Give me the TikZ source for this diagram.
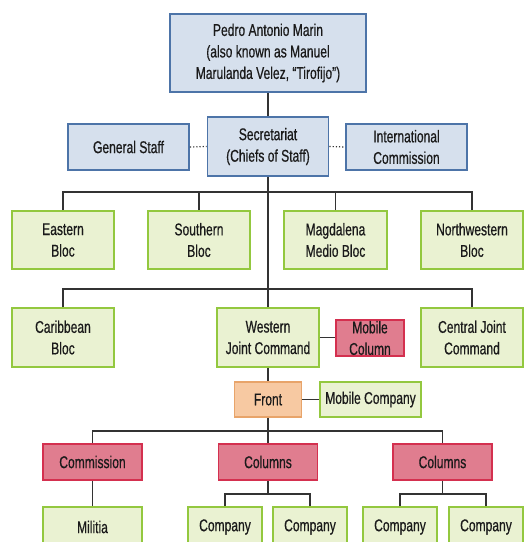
\documentclass[tikz,border=0pt]{standalone}
\usepackage{fontspec}
\setmainfont{Liberation Sans}[FakeStretch=0.71, FakeBold=0.6]
\definecolor{bfill}{HTML}{D6E0ED}
\definecolor{bdraw}{HTML}{4D74A8}
\definecolor{gfill}{HTML}{EAF2D2}
\definecolor{gdraw}{HTML}{93C83F}
\definecolor{pfill}{HTML}{E07D8F}
\definecolor{pdraw}{HTML}{D4304F}
\definecolor{ofill}{HTML}{F7C9A2}
\definecolor{odraw}{HTML}{E8A46A}
\definecolor{lcol}{HTML}{333333}
\definecolor{tcol}{HTML}{1A1A1A}
\tikzset{
  box/.style={draw, line width=1.8pt, align=center, inner sep=0pt, text=tcol,
    font=\fontsize{17}{21.5}\selectfont},
  bluebox/.style={box, fill=bfill, draw=bdraw},
  greenbox/.style={box, fill=gfill, draw=gdraw},
  pinkbox/.style={box, fill=pfill, draw=pdraw},
  orangebox/.style={box, fill=ofill, draw=odraw},
  wh/.style 2 args={minimum width=#1pt, minimum height=#2pt},
  conn/.style={draw=lcol, line width=1.5pt},
  dotconn/.style={draw=lcol, line width=1.2pt, dotted},
}
\begin{document}
\begin{tikzpicture}[x=1pt,y=-1pt]
\useasboundingbox (0,0) rectangle (525,542);
\clip (0,0) rectangle (525,542);
% top
\node[bluebox, wh={196}{78}] (top) at (268,53) {Pedro Antonio Marin\\(also known as Manuel\\Marulanda Velez, “Tirofijo”)};
\node[bluebox, wh={121}{59}] (sec) at (268,146.5) {Secretariat\\(Chiefs of Staff)};
\node[bluebox, wh={121}{46}] (gs) at (128.5,147) {General Staff};
\node[bluebox, wh={121}{46}] (intl) at (406.5,147) {International\\Commission};
% row 2
\node[greenbox, wh={102}{58}] (east) at (63,240) {Eastern\\Bloc};
\node[greenbox, wh={102}{58}] (south) at (199,240) {Southern\\Bloc};
\node[greenbox, wh={103}{58}] (magd) at (335.5,240) {Magdalena\\Medio Bloc};
\node[greenbox, wh={102}{58}] (nw) at (472,240) {Northwestern\\Bloc};
% row 3
\node[greenbox, wh={102}{59}] (carib) at (63,337.5) {Caribbean\\Bloc};
\node[greenbox, wh={102}{59}] (west) at (268,337.5) {Western\\Joint Command};
\node[pinkbox, wh={68}{36}] (mobcol) at (370,338) {Mobile\\Column};
\node[greenbox, wh={102}{59}] (central) at (472,337.5) {Central Joint\\Command};
% front
\node[orangebox, wh={67}{35}] (front) at (268,399.5) {Front};
\node[greenbox, wh={101}{35}] (mobcomp) at (370.5,399.5) {Mobile Company};
% row 5
\node[pinkbox, wh={99}{36}] (comm) at (92.5,462) {Commission};
\node[pinkbox, wh={99}{36}] (colA) at (268,462) {Columns};
\node[pinkbox, wh={99}{36}] (colB) at (442.5,462) {Columns};
% row 6
\node[greenbox, wh={99}{40}] (mil) at (92.5,527) {Militia};
\node[greenbox, wh={74}{40}] (c1) at (225,527) {Company};
\node[greenbox, wh={74}{40}] (c2) at (310,527) {Company};
\node[greenbox, wh={74}{40}] (c3) at (400,527) {Company};
\node[greenbox, wh={74}{40}] (c4) at (486,527) {Company};
% bus coordinates
\coordinate (b1) at (268,192);
\coordinate (b2) at (268,289);
\coordinate (b3) at (268,431);
\coordinate (b4) at (268,494);
\coordinate (b5) at (442.5,494);
% connectors
\path[conn] (top.south) -- (sec.north);
\path[dotconn] (gs.east) -- (sec.west);
\path[dotconn] (sec.east) -- (intl.west);
\path[conn] (sec.south) -- (b1);
\path[conn] (east.north) |- (b1);
\path[conn] (south.north) |- (b1);
\path[conn] (magd.north) |- (b1);
\path[conn] (nw.north) |- (b1);
\path[conn] (b1) -- (west.north);
\path[conn] (carib.north) |- (b2);
\path[conn] (central.north) |- (b2);
\path[conn] (west.east) -- (west.east -| mobcol.west);
\path[conn] (west.south) -- (front.north);
\path[conn] (front.east) -- (mobcomp.west);
\path[conn] (front.south) -- (b3);
\path[conn] (comm.north) |- (b3);
\path[conn] (colB.north) |- (b3);
\path[conn] (b3) -- (colA.north);
\path[conn] (comm.south) -- (mil.north);
\path[conn] (colA.south) -- (b4);
\path[conn] (c1.north) |- (b4);
\path[conn] (c2.north) |- (b4);
\path[conn] (colB.south) -- (b5);
\path[conn] (c3.north) |- (b5);
\path[conn] (c4.north) |- (b5);
\end{tikzpicture}
\end{document}
